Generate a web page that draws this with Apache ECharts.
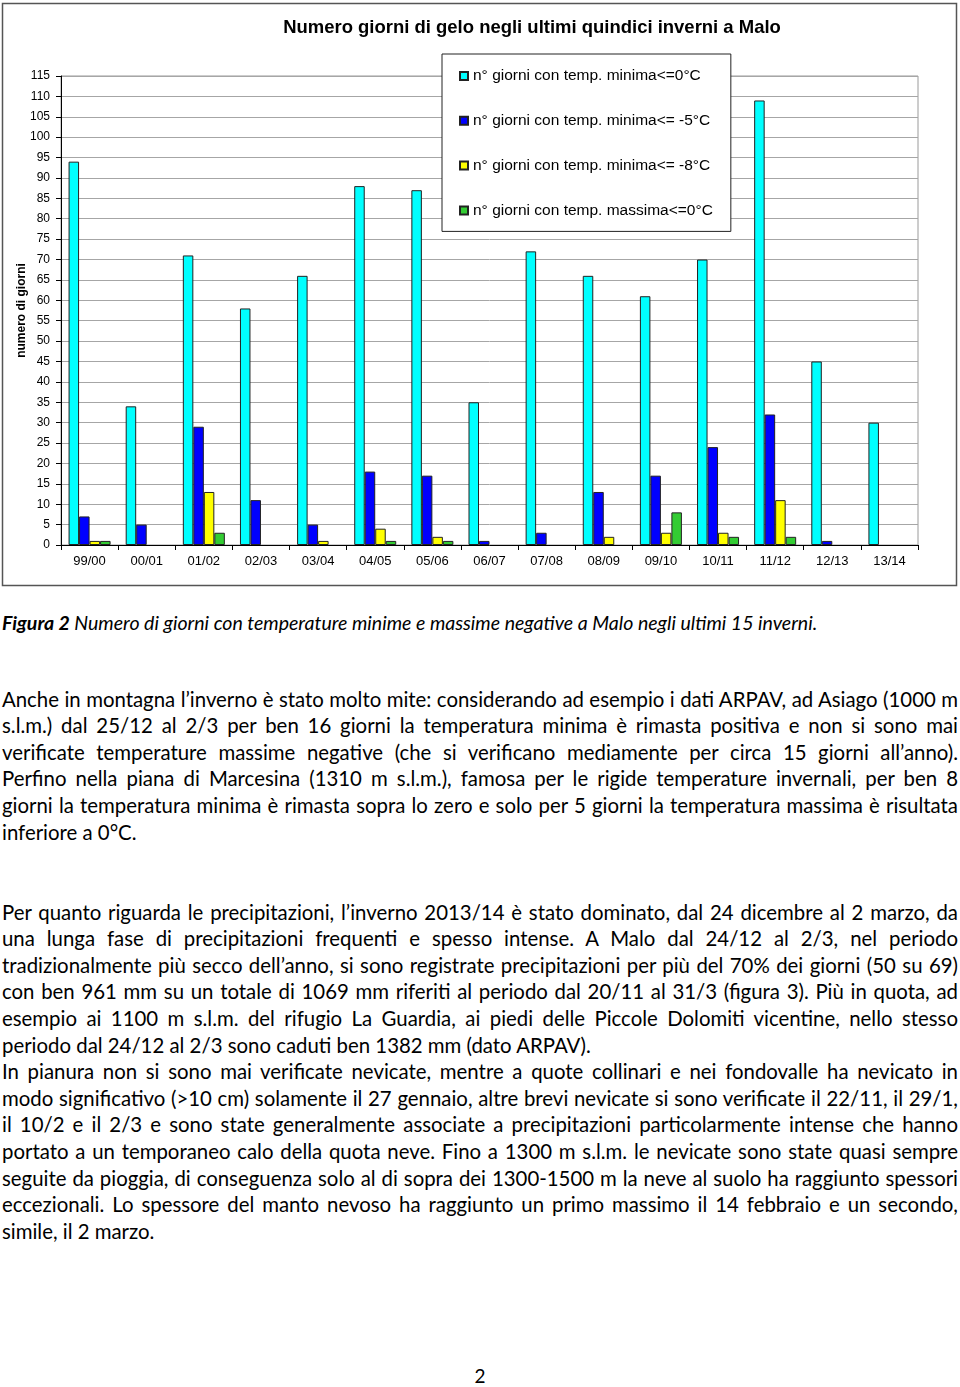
<!DOCTYPE html>
<html><head><meta charset="utf-8">
<script src="https://cdn.jsdelivr.net/npm/echarts@6/dist/echarts.min.js"></script>
<style>
body{margin:0;background:#fff;width:960px;height:1387px;position:relative;overflow:hidden;font-family:Lato,'Open Sans',sans-serif;color:#000}
#chart{position:absolute;left:0;top:0;width:960px;height:590px}
.block{position:absolute;left:2px;width:956px}
.ln{display:block;text-align:justify;text-align-last:justify;height:26.6px;line-height:26.6px;white-space:normal}
.ln.last{text-align-last:left}
#cap{position:absolute;left:2px;top:611px;line-height:24px;white-space:nowrap;font-style:italic}
#pg{position:absolute;left:0;width:960px;top:1364px;text-align:center;font-size:19px;line-height:24px}
</style></head>
<body>
<div id="chart"></div>
<div id="cap"><b>Figura 2</b> Numero di giorni con temperature minime e massime negative a Malo negli ultimi 15 inverni.</div>
<div class="block" id="p1" style="top:685.7px"></div>
<div class="block" id="p2" style="top:898.7px"></div>
<div id="pg">2</div>
<script>
// ---- data ----
const categories = ['99/00','00/01','01/02','02/03','03/04','04/05','05/06','06/07','07/08','08/09','09/10','10/11','11/12','12/13','13/14'];
const minLe0  = [94,34,71,58,66,88,87,35,72,66,61,70,109,45,30];
const minLeM5 = [7,5,29,11,5,18,17,1,3,13,17,24,32,1,0];
const minLeM8 = [1,0,13,0,1,4,2,0,0,2,3,3,11,0,0];
const maxLe0  = [1,0,3,0,0,1,1,0,0,0,8,2,2,0,0];
const seriesNames = ['n° giorni con temp. minima<=0°C','n° giorni con temp. minima<= -5°C','n° giorni con temp. minima<= -8°C','n° giorni con temp. massima<=0°C'];
const titleText = 'Numero giorni di gelo negli ultimi quindici inverni a Malo';
const yName = 'numero di giorni';

// ---- text lines ----
const para1 = [
'Anche in montagna l’inverno è stato molto mite: considerando ad esempio i dati ARPAV, ad Asiago (1000 m',
's.l.m.) dal 25/12 al 2/3 per ben 16 giorni la temperatura minima è rimasta positiva e non si sono mai',
'verificate temperature massime negative (che si verificano mediamente per circa 15 giorni all’anno).',
'Perfino nella piana di Marcesina (1310 m s.l.m.), famosa per le rigide temperature invernali, per ben 8',
'giorni la temperatura minima è rimasta sopra lo zero e solo per 5 giorni la temperatura massima è risultata',
'inferiore a 0°C.'];
const para2 = [
'Per quanto riguarda le precipitazioni, l’inverno 2013/14 è stato dominato, dal 24 dicembre al 2 marzo, da',
'una lunga fase di precipitazioni frequenti e spesso intense. A Malo dal 24/12 al 2/3, nel periodo',
'tradizionalmente più secco dell’anno, si sono registrate precipitazioni per più del 70% dei giorni (50 su 69)',
'con ben 961 mm su un totale di 1069 mm riferiti al periodo dal 20/11 al 31/3 (figura 3). Più in quota, ad',
'esempio ai 1100 m s.l.m. del rifugio La Guardia, ai piedi delle Piccole Dolomiti vicentine, nello stesso',
'periodo dal 24/12 al 2/3 sono caduti ben 1382 mm (dato ARPAV).'];
const para3 = [
'In pianura non si sono mai verificate nevicate, mentre a quote collinari e nei fondovalle ha nevicato in',
'modo significativo (>10 cm) solamente il 27 gennaio, altre brevi nevicate si sono verificate il 22/11, il 29/1,',
'il 10/2 e il 2/3 e sono state generalmente associate a precipitazioni particolarmente intense che hanno',
'portato a un temporaneo calo della quota neve. Fino a 1300 m s.l.m. le nevicate sono state quasi sempre',
'seguite da pioggia, di conseguenza solo al di sopra dei 1300-1500 m la neve al suolo ha raggiunto spessori',
'eccezionali. Lo spessore del manto nevoso ha raggiunto un primo massimo il 14 febbraio e un secondo,',
'simile, il 2 marzo.'];

function measureDom(text, fs, style){
  const s=document.createElement('span');
  s.style.cssText='position:absolute;visibility:hidden;white-space:nowrap;font-family:Lato,"Open Sans",sans-serif;font-size:'+fs+'px;'+(style||'');
  s.textContent=text; document.body.appendChild(s);
  const w=s.getBoundingClientRect().width; s.remove(); return w;
}
const justLines=[...para1.slice(0,-1),...para2.slice(0,-1),...para3.slice(0,-1)];
let maxW=0; justLines.forEach(t=>{maxW=Math.max(maxW,measureDom(t,20));});
const bodyFs=Math.floor(20*953/maxW*100)/100;
function fill(el, paras){
  paras.forEach(p=>p.forEach((t,i)=>{
    const d=document.createElement('div'); d.className='ln'+(i===p.length-1?' last':'');
    d.style.fontSize=bodyFs+'px'; d.textContent=t; el.appendChild(d);
  }));
}
fill(document.getElementById('p1'),[para1]);
fill(document.getElementById('p2'),[para2,para3]);
const capEl=document.getElementById('cap');
capEl.style.fontSize='20px';
const cw=capEl.getBoundingClientRect().width;
capEl.style.fontSize=(20*816/cw)+'px';

// ---- title font fit ----
const ctx=document.createElement('canvas').getContext('2d');
function mw(font,t){ctx.font=font;return ctx.measureText(t).width;}
let titleFont;
const hasNarrow = mw('bold 18px "Liberation Sans Narrow", monospace',titleText)!==mw('bold 18px monospace',titleText);
if(hasNarrow){
  const w=mw('bold 18px "Liberation Sans Narrow"',titleText);
  titleFont={family:'"Liberation Sans Narrow"',size:18*498/w};
}else{
  const w=mw('bold 17px "Liberation Sans"',titleText);
  titleFont={family:'"Liberation Sans"',size:17*498/w};
}

// ---- chart ----
const colors=['#00ffff','#0000ff','#ffff00','#33cc33'];
const dataSets=[minLe0,minLeM5,minLeM8,maxLe0];
const chart=echarts.init(document.getElementById('chart'),null,{renderer:'canvas'});
chart.setOption({
  animation:false,
  textStyle:{fontFamily:'"Liberation Sans", Arial, sans-serif',color:'#000'},
  grid:{left:61,right:42,top:76,bottom:45,show:true,borderColor:'#9a9a9a',borderWidth:1},
  graphic:[
    {type:'rect',shape:{x:2.5,y:3.5,width:954,height:582},style:{fill:null,stroke:'#555',lineWidth:1.5},z:-1,silent:true},
    {type:'text',x:532,y:28,style:{text:titleText,align:'center',verticalAlign:'middle',fill:'#000',
      font:'bold '+titleFont.size.toFixed(2)+'px '+titleFont.family+', sans-serif'},silent:true}
  ],
  legend:{
    orient:'vertical',left:442,top:54,
    padding:[14,18,13,17],itemGap:28.8,itemWidth:8,itemHeight:8,icon:'rect',
    backgroundColor:'#fff',borderColor:'#222',borderWidth:1,
    textStyle:{fontSize:15.5,color:'#000',fontFamily:'"Liberation Sans", Arial, sans-serif'},
    data:seriesNames
  },
  xAxis:{
    type:'category',data:categories,
    axisLine:{lineStyle:{color:'#000',width:1}},
    axisTick:{show:true,alignWithLabel:false,length:5,lineStyle:{color:'#000'}},
    axisLabel:{fontSize:13,margin:10,color:'#000'},
    splitLine:{show:false}
  },
  yAxis:{
    type:'value',min:0,max:115,interval:5,
    name:yName,nameLocation:'middle',nameGap:33,nameMoveOverlap:false,
    nameTextStyle:{fontSize:12,fontWeight:'bold',color:'#000'},
    axisLine:{show:true,lineStyle:{color:'#000',width:1}},
    axisTick:{show:true,length:5,lineStyle:{color:'#000'}},
    axisLabel:{fontSize:12,margin:11,color:'#000'},
    splitLine:{show:true,lineStyle:{color:'#a6a6a6',width:1}}
  },
  series:dataSets.map((d,i)=>({
    name:seriesNames[i],type:'bar',barWidth:10.5,barGap:'0%',
    itemStyle:{color:colors[i],borderColor:'#222',borderWidth:1},
    data:d.map(v=>v===0?null:v)
  }))
});
</script>
</body></html>
